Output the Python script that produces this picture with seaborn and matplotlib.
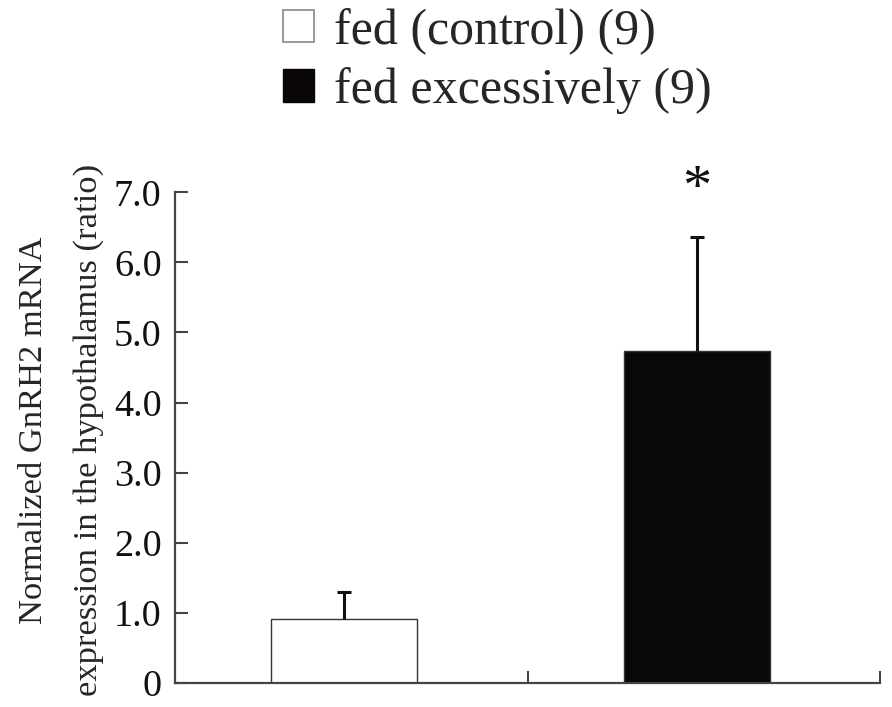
import matplotlib
matplotlib.use("Agg")
import matplotlib.pyplot as plt
import seaborn as sns
import pandas as pd
from matplotlib.patches import Patch

categories = ["fed (control) (9)", "fed excessively (9)"]
means = [0.91, 4.74]
errors = [0.39, 1.62]
ytick_vals = [0, 1, 2, 3, 4, 5, 6, 7]
ytick_labels = ["0", "1.0", "2.0", "3.0", "4.0", "5.0", "6.0", "7.0"]
ylabel = "Normalized GnRH2 mRNA\nexpression in the hypothalamus (ratio)"
colors = ["#ffffff", "#0a0606"]

sns.set_theme(style="white")
plt.rcParams['font.family'] = ['Liberation Serif', 'DejaVu Serif']

df = pd.DataFrame({"group": categories, "value": means})

fig = plt.figure(figsize=(8.92, 7.07), dpi=100)
ax = fig.add_axes([0.196, 0.034, 0.791, 0.694])

sns.barplot(data=df, x="group", y="value", hue="group", palette=colors,
            width=0.414, edgecolor="#333333", linewidth=1.0, legend=False, ax=ax)

for i, (m, e) in enumerate(zip(means, errors)):
    ax.errorbar(i, m, yerr=[[0], [e]], fmt="none", ecolor="#111111",
                elinewidth=2.2, capsize=0)
    ax.plot([i], [m + e], marker="_", markersize=10, markeredgewidth=2.2,
            color="#111111", linestyle="none")

ax.text(1, 7.03, "*", ha="center", va="center", fontsize=42, color="#111111")

ax.set_xlim(-0.48, 1.52)
ax.set_ylim(0, 7.0)
ax.set_xticks([0.52, 1.52])
ax.set_xticklabels(["", ""])
ax.set_yticks(ytick_vals)
ax.set_yticklabels(ytick_labels)
ax.set_xlabel("")
ax.set_ylabel(ylabel, fontsize=24.8, linespacing=2.05, labelpad=7)
ax.yaxis.label.set_y(0.515)
ax.tick_params(axis="y", direction="in", length=9, width=1.5, colors="#444444",
               labelsize=27.5, labelcolor="#111111", left=True, pad=9.5)
ax.tick_params(axis="x", direction="in", length=9, width=1.5, colors="#444444", bottom=True)
for s in ["top", "right"]:
    ax.spines[s].set_visible(False)
for s in ["left", "bottom"]:
    ax.spines[s].set_color("#444444")
    ax.spines[s].set_linewidth(1.6)

handles = [Patch(facecolor=colors[0], edgecolor="#888888", linewidth=1.2),
           Patch(facecolor=colors[1], edgecolor=colors[1])]
fig.legend(handles, categories, loc="upper left", bbox_to_anchor=(0.295, 1.017),
           frameon=False, fontsize=36, handlelength=0.62, handleheight=0.62,
           handletextpad=0.4, labelspacing=0.25, borderaxespad=0)

fig.savefig("out.png", dpi=100)
